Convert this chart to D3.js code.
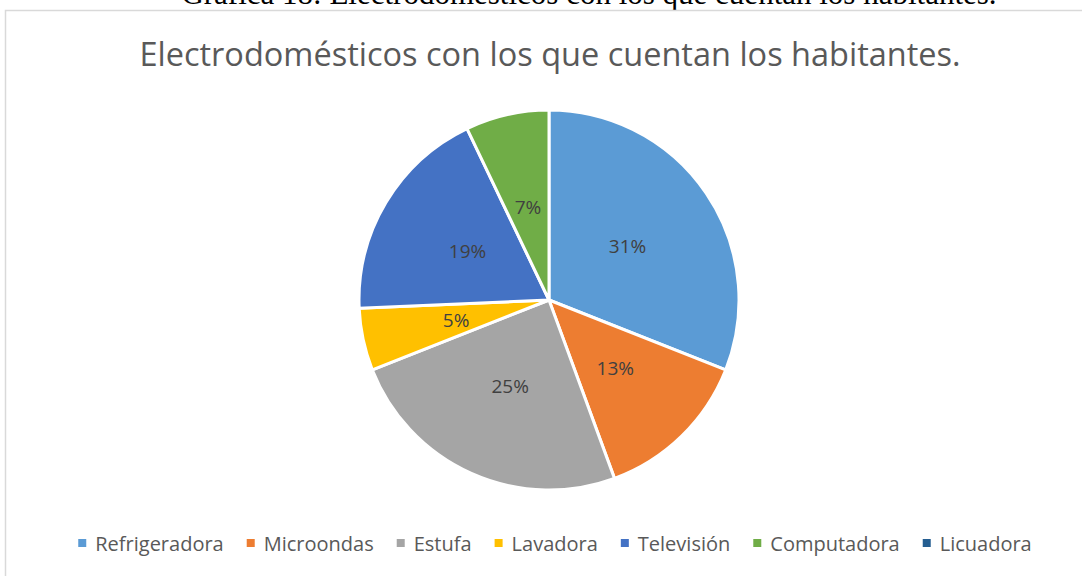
<!DOCTYPE html>
<html>
<head>
<meta charset="utf-8">
<script src="https://cdn.jsdelivr.net/npm/d3@7"></script>
<style>
  body { margin: 0; background: #ffffff; }
  svg { display: block; }
</style>
</head>
<body>
<div id="chart"></div>
<script>
// pie chart of home appliances

var Width = 1082;
var Height = 576;
var CenterX = 549;
var CenterY = 300;
var Radius = 190;

// data
var categories = ["Refrigeradora", "Microondas", "Estufa", "Lavadora", "Televisión", "Computadora", "Licuadora"];
var values = [31.0, 13.4, 24.6, 5.3, 18.6, 7.1, 0];
var colors = ["#5B9BD5", "#ED7D31", "#A5A5A5", "#FFC000", "#4472C4", "#70AD47", "#255E91"];

var caption = "Gráfica 18: Electrodomésticos con los que cuentan los habitantes.";
var title = "Electrodomésticos con los que cuentan los habitantes.";

var svg = d3.select("#chart")
    .append("svg")
    .attr("width", Width)
    .attr("height", Height);

// caption from the document, cut by the top of the page
svg.append("text")
    .attr("x", 589)
    .attr("y", 4)
    .attr("text-anchor", "middle")
    .attr("font-family", "'Liberation Serif', 'Times New Roman', serif")
    .attr("font-size", "31px")
    .attr("fill", "#000")
    .text(caption);

// chart frame
svg.append("rect")
    .attr("x", 5.5)
    .attr("y", 10.5)
    .attr("width", Width)
    .attr("height", Height)
    .attr("fill", "#fff")
    .attr("stroke", "#d9d9d9")
    .attr("stroke-width", 1.5);

// title
svg.append("text")
    .attr("x", 550)
    .attr("y", 66)
    .attr("text-anchor", "middle")
    .attr("font-family", "'Open Sans', sans-serif")
    .attr("font-size", "32.5px")
    .attr("fill", "#595959")
    .text(title);

var color = d3.scaleOrdinal().domain(categories).range(colors);

var pie = d3.pie()
    .sort(null)
    .value(function(d) { return d.value; });

var data = categories.map(function(c, i) { return { name: c, value: values[i] }; });
var arcs = pie(data);
var total = d3.sum(values);

var arc = d3.arc().innerRadius(0).outerRadius(Radius);

var g = svg.append("g")
    .attr("transform", "translate(" + CenterX + "," + CenterY + ")");

g.selectAll("path")
    .data(arcs.filter(function(d) { return d.data.value > 0; }))
    .enter()
    .append("path")
    .attr("d", arc)
    .attr("fill", function(d) { return color(d.data.name); })
    .attr("stroke", "#fff")
    .attr("stroke-width", 3)
    .attr("stroke-linejoin", "round");

var pct = d3.format(".0%");

g.selectAll("text.label")
    .data(arcs.filter(function(d) { return d.data.value > 0; }))
    .enter()
    .append("text")
    .attr("class", "label")
    .attr("transform", function(d) { return "translate(" + arc.centroid(d) + ")"; })
    .attr("text-anchor", "middle")
    .attr("dy", "0.35em")
    .attr("font-family", "'Open Sans', sans-serif")
    .attr("font-size", "19px")
    .attr("fill", "#404040")
    .text(function(d) { return pct(d.data.value / total); });

// legend, laid out from measured text widths
var legend = svg.append("g").attr("class", "legend");
var items = legend.selectAll("g")
    .data(categories)
    .enter()
    .append("g");

items.append("rect")
    .attr("width", 8)
    .attr("height", 8)
    .attr("y", -12)
    .attr("fill", function(d) { return color(d); });

items.append("text")
    .attr("x", 17)
    .attr("font-family", "'Open Sans', sans-serif")
    .attr("font-size", "20px")
    .attr("fill", "#595959")
    .text(function(d) { return d; });

var gap = 23;
var widths = [];
items.each(function() {
    widths.push(17 + d3.select(this).select("text").node().getComputedTextLength());
});
var totalW = d3.sum(widths) + gap * (widths.length - 1);
var x = 555 - totalW / 2;
items.attr("transform", function(d, i) {
    var t = "translate(" + x + ",551)";
    x += widths[i] + gap;
    return t;
});
</script>
</body>
</html>
